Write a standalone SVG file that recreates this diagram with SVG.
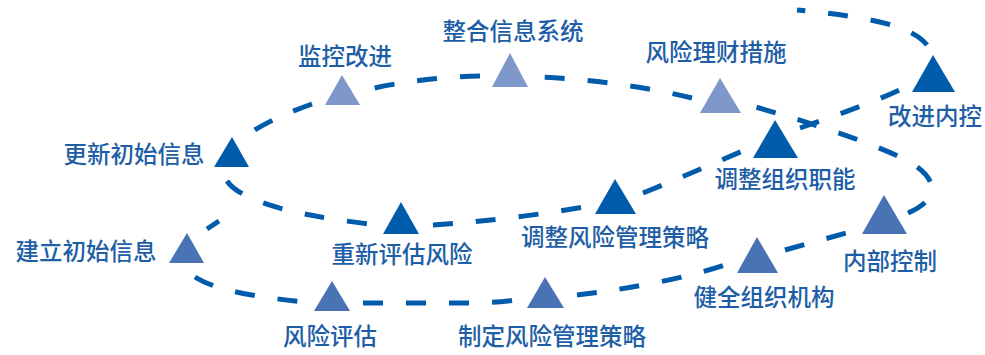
<svg xmlns="http://www.w3.org/2000/svg" width="985" height="355" viewBox="0 0 985 355">
<style>
.c{fill:none;stroke:#005BAA;stroke-width:5;stroke-dasharray:20 23}
.dk{fill:#005BAA}
.md{fill:#4A73B5}
.lt{fill:#7F98CA}
text{font-family:"Noto Sans CJK SC","Noto Sans",sans-serif;font-size:23.5px;font-weight:500;fill:#1D5EA6;text-anchor:middle}
</style>
<rect width="985" height="355" fill="#fff"/>
<g id="connectors">
<path class="c" d="M207,229 L219,221"/>
<path class="c" d="M195,277 C215,290 255,297 305,302"/>
<path class="c" d="M363,303 L470,303 Q495,303 515,300"/>
<path class="c" d="M577,295 C620,290 680,280 725,265"/>
<path class="c" d="M785,250 L850,232"/>
<path class="c" d="M908,213 C945,197 936,174 900,157 C870,143 820,125 745,104"/>
<path class="c" d="M692,98 C650,88 600,80 540,77"/>
<path class="c" d="M480,76 C440,77 400,82 370,89"/>
<path class="c" d="M312,104 C290,112 270,120 250,133"/>
<path class="c" d="M227,181 C240,200 290,215 370,224"/>
<path class="c" d="M433,225 C480,222 540,215 590,206"/>
<path class="c" d="M643,193 C680,178 710,165 745,150"/>
<path class="c" d="M800,128 C840,114 880,100 910,85"/>
<path class="c" d="M927,45 C912,26 870,17 797,10"/>
</g>
<g id="n-jianli"><polygon class="md" points="187,233 204,263 169,263"/><text x="86" y="260">建立初始信息</text></g>
<g id="n-pinggu"><polygon class="md" points="332,281 350,311 314,311"/><text x="330" y="345">风险评估</text></g>
<g id="n-zhiding"><polygon class="md" points="545,277 564,308 527,308"/><text x="552" y="345">制定风险管理策略</text></g>
<g id="n-jianquan"><polygon class="md" points="757,237 778,273 737,273"/><text x="764" y="306">健全组织机构</text></g>
<g id="n-neibu"><polygon class="md" points="884,195 907,234 862,234"/><text x="890" y="270">内部控制</text></g>
<g id="n-licai"><polygon class="lt" points="720,78 741,113 700,113"/><text x="716" y="61">风险理财措施</text></g>
<g id="n-zhenghe"><polygon class="lt" points="510,53 528,87 492,87"/><text x="513" y="40">整合信息系统</text></g>
<g id="n-jiankong"><polygon class="lt" points="342,75 360,105 325,105"/><text x="345" y="65">监控改进</text></g>
<g id="n-gengxin"><polygon class="dk" points="232,137 249,167 214,167"/><text x="134" y="163">更新初始信息</text></g>
<g id="n-chongxin"><polygon class="dk" points="401,202 419,234 383,234"/><text x="402" y="263">重新评估风险</text></g>
<g id="n-tiaozheng1"><polygon class="dk" points="615,179 636,214 595,214"/><text x="615" y="246">调整风险管理策略</text></g>
<g id="n-tiaozheng2"><polygon class="dk" points="775,120 798,158 753,158"/><text x="785" y="188">调整组织职能</text></g>
<g id="n-gaijin"><polygon class="dk" points="933,55 955,92 912,92"/><text x="935" y="125">改进内控</text></g>
</svg>
